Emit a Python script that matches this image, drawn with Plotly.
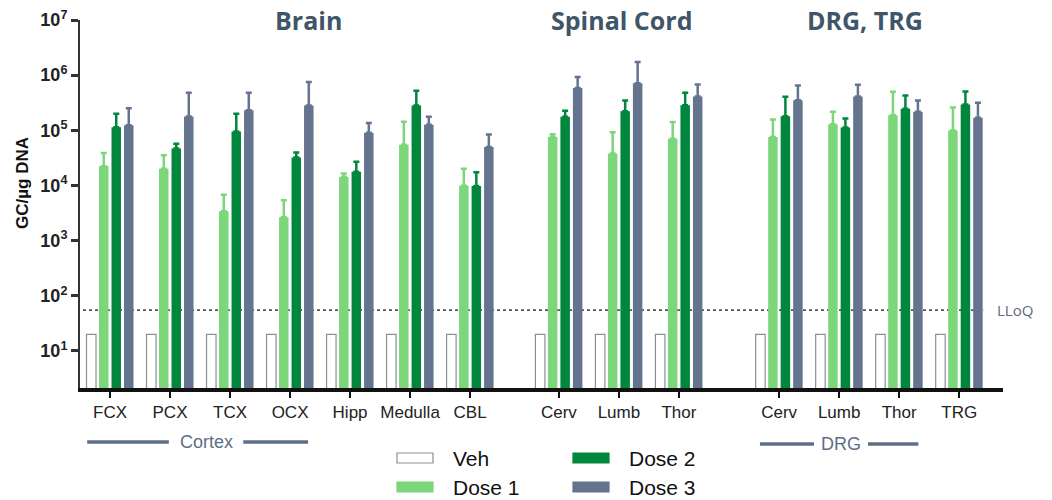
import plotly.graph_objects as go

# ---------------- data ----------------
categories = ["FCX", "PCX", "TCX", "OCX", "Hipp", "Medulla", "CBL",
              "Cerv", "Lumb", "Thor",
              "Cerv", "Lumb", "Thor", "TRG"]
section = [0, 0, 0, 0, 0, 0, 0, 1, 1, 1, 2, 2, 2, 2]

veh = [20] * 14
dose1 = [22300, 20000, 3400, 2640, 14300, 54600, 9900,
         75800, 38000, 70000,
         76000, 129000, 188000, 99000]
dose1_top = [38900, 35300, 6800, 5400, 16400, 143000, 20200,
             84700, 92000, 141000,
             157000, 216000, 500000, 260000]
dose2 = [114000, 46800, 95000, 32000, 17800, 282000, 9800,
         176000, 222000, 286000,
         180000, 112000, 245000, 294000]
dose2_top = [200000, 56900, 200000, 39600, 27000, 521000, 17400,
             226000, 347000, 478000,
             405000, 164000, 429000, 507000]
dose3 = [124000, 178000, 232000, 282000, 90000, 126000, 50000,
         582000, 716000, 411000,
         352000, 411000, 216000, 169000]
dose3_top = [251000, 480000, 480000, 748000, 135000, 176000, 84000,
             922000, 1740000, 676000,
             652000, 670000, 347000, 316000]
lloq = 55

# ---------------- layout helpers ----------------
section_gap = [0.0, 0.48, 1.15]   # extra spacing between body sections
xpos = [i + section_gap[s] for i, s in enumerate(section)]

C_VEH_LINE = "#8a8f98"
C_D1 = "#7cd67a"
C_D2 = "#00873d"
C_D3 = "#64748f"
C_TITLE = "#3f5568"
C_BRACKET = "#5e6e87"


def up_err(vals, tops):
    return [t - v for v, t in zip(vals, tops)]


fig = go.Figure()
fig.add_trace(go.Bar(x=xpos, y=veh, name="Veh",
                     marker=dict(color="white", line=dict(color=C_VEH_LINE, width=1.2))))
for name, vals, tops, col in [("Dose 1", dose1, dose1_top, C_D1),
                              ("Dose 2", dose2, dose2_top, C_D2),
                              ("Dose 3", dose3, dose3_top, C_D3)]:
    fig.add_trace(go.Bar(
        x=xpos, y=vals, name=name,
        marker=dict(color=col, line=dict(width=0)),
        error_y=dict(type="data", symmetric=False, array=up_err(vals, tops),
                     arrayminus=[0] * len(vals), color=col, thickness=2.5, width=3),
    ))

shapes = []
annotations = []

# LLoQ dotted line
shapes.append(dict(type="line", xref="x", yref="y", x0=xpos[0] - 0.45, x1=xpos[-1] + 0.4,
                   y0=lloq, y1=lloq, line=dict(color="#555", width=1.6, dash="dot"),
                   layer="below"))
annotations.append(dict(xref="x", yref="y", x=xpos[-1] + 0.6, y=1.74, text="LLoQ",
                        showarrow=False, xanchor="left", yanchor="middle",
                        font=dict(family="Open Sans", size=15, color="#5a6a80")))

# Section titles
for txt, xc in [("Brain", 3.3), ("Spinal Cord", 8.52), ("DRG, TRG", 12.58)]:
    annotations.append(dict(xref="x", yref="paper", x=xc, y=1.0, yshift=0, text="<b>%s</b>" % txt,
                            showarrow=False, xanchor="center", yanchor="middle",
                            font=dict(family="Open Sans", size=25, color=C_TITLE)))

# Group brackets below axis
def bracket(label, xa, xb, xt, ypap, half):
    shapes.append(dict(type="line", xref="x", yref="paper", x0=xa, x1=xt - half,
                       y0=ypap, y1=ypap, line=dict(color=C_BRACKET, width=3.5)))
    shapes.append(dict(type="line", xref="x", yref="paper", x0=xt + half, x1=xb,
                       y0=ypap, y1=ypap, line=dict(color=C_BRACKET, width=3.5)))
    annotations.append(dict(xref="x", yref="paper", x=xt, y=ypap, text=label, showarrow=False,
                            xanchor="center", yanchor="middle",
                            font=dict(family="Liberation Sans", size=18, color=C_BRACKET)))

bracket("Cortex", xpos[0] - 0.38, xpos[3] + 0.3, 1.6, -0.147, 0.62)
bracket("DRG", xpos[10] - 0.32, xpos[13] - 0.68, xpos[11] + 0.03, -0.152, 0.45)

# Manual legend
def px_x(p):
    return (p - 80) / 923.0


def px_y(p):
    return (388 - p) / 368.0


legend_items = [("Veh", 397, 453, "white", C_VEH_LINE),
                ("Dose 1", 397, 482, C_D1, C_D1),
                ("Dose 2", 573, 453, C_D2, C_D2),
                ("Dose 3", 573, 482, C_D3, C_D3)]
for txt, lx, ly, fillc, linec in legend_items:
    shapes.append(dict(type="rect", xref="paper", yref="paper",
                       x0=px_x(lx), x1=px_x(lx + 36), y0=px_y(ly), y1=px_y(ly + 10),
                       fillcolor=fillc, line=dict(color=linec, width=1.2)))
    annotations.append(dict(xref="paper", yref="paper", x=px_x(lx + 54), y=px_y(ly + 5),
                            text=txt, showarrow=False, xanchor="left", yanchor="middle",
                            font=dict(family="Liberation Sans", size=21, color="#111")))

# Y axis title
annotations.append(dict(xref="paper", yref="paper", x=px_x(22), y=px_y(183),
                        text="<b>GC/µg DNA</b>", textangle=-90, showarrow=False,
                        xanchor="center", yanchor="middle",
                        font=dict(family="Liberation Sans", size=17, color="#111")))

ytick_vals = [10, 100, 1000, 10000, 100000, 1000000, 10000000]
ytick_text = ["<b>10<sup>%d</sup></b>" % k for k in range(1, 8)]

fig.update_layout(
    width=1052, height=500,
    margin=dict(l=80, r=49, t=20, b=112, autoexpand=False),
    paper_bgcolor="white", plot_bgcolor="white",
    barmode="group", bargap=0.167, bargroupgap=0.24,
    showlegend=False,
    shapes=shapes, annotations=annotations,
    xaxis=dict(range=[xpos[0] - 0.5, xpos[-1] + 0.73], tickvals=xpos, ticktext=categories,
               showline=True, linecolor="#111", linewidth=4, ticks="outside",
               tickcolor="#111", tickwidth=2, ticklen=6, showgrid=False, zeroline=False,
               automargin=False,
               tickfont=dict(family="Liberation Sans", size=17, color="#222")),
    yaxis=dict(type="log", range=[0.328, 7.0], tickvals=ytick_vals, ticktext=ytick_text,
               showline=True, linecolor="#333", linewidth=2, ticks="outside",
               tickcolor="#333", tickwidth=2.5, ticklen=7, showgrid=False, zeroline=False,
               automargin=False,
               tickfont=dict(family="Liberation Sans", size=18, color="#222")),
)

fig.write_html("out.html", config={"displayModeBar": False},
               post_script="document.body.style.margin='0px';document.body.style.overflow='hidden';")
